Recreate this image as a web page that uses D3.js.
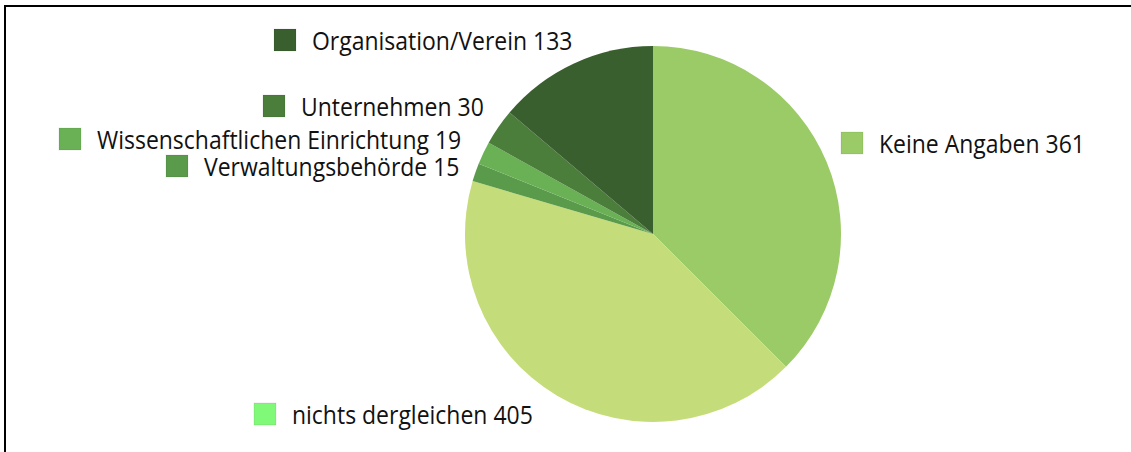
<!DOCTYPE html>
<html>
<head>
<meta charset="utf-8">
<script src="https://cdn.jsdelivr.net/npm/d3@7"></script>
<style>
  body { margin: 0; background: #fff; }
  text { font-family: "Open Sans", sans-serif; fill: #111; }
</style>
</head>
<body>
<svg id="chart" width="1131" height="452"></svg>
<script>
var categories = ["Keine Angaben", "nichts dergleichen", "Verwaltungsbehörde",
    "Wissenschaftlichen Einrichtung", "Unternehmen", "Organisation/Verein"];
var values = [361, 405, 15, 19, 30, 133];
var sliceColors = ["#9bcb66", "#c5dc7a", "#5a9a4b", "#6ab155", "#4b7d3b", "#3a5f2e"];
var legendColors = ["#9bcb66", "#80f878", "#5a9a4b", "#6ab155", "#4b7d3b", "#3a5f2e"];

// legend box positions (top-left of each square), same order as categories
var legendPos = [[841, 132], [254, 403], [166, 155], [59, 128], [263, 95], [274, 29]];

var svg = d3.select("#chart"),
    cx = 653, cy = 234, radius = 188;

// frame (only top and left edges are visible in the window)
svg.append("path")
    .attr("d", "M5,452 V6 H1131")
    .attr("fill", "none")
    .attr("stroke", "#000")
    .attr("stroke-width", 2);

var pie = d3.pie().sort(null).value(function (d) { return d; });
var arc = d3.arc().innerRadius(0).outerRadius(radius);

var g = svg.append("g").attr("transform", "translate(" + cx + "," + cy + ")");
g.selectAll("path")
    .data(pie(values))
    .enter().append("path")
    .attr("d", arc)
    .attr("fill", function (d, i) { return sliceColors[i]; });

var legend = svg.append("g");
var items = legend.selectAll("g")
    .data(categories)
    .enter().append("g")
    .attr("transform", function (d, i) {
        return "translate(" + legendPos[i][0] + "," + legendPos[i][1] + ")";
    });
items.append("rect")
    .attr("width", 22)
    .attr("height", 22)
    .attr("fill", function (d, i) { return legendColors[i]; })
    .attr("stroke", "rgba(0,0,0,0.08)")
    .attr("stroke-width", 1);

var labels = items.append("text")
    .attr("x", 38)
    .attr("y", 21)
    .attr("font-size", 25)
    .text(function (d, i) { return d + " " + values[i]; });

// squeeze text horizontally to match the narrow face of the original
var w = labels.nodes()[0].getComputedTextLength();
var sx = 206 / w;
labels.attr("transform", "translate(38,0) scale(" + sx + ",1) translate(-38,0)");
</script>
</body>
</html>
